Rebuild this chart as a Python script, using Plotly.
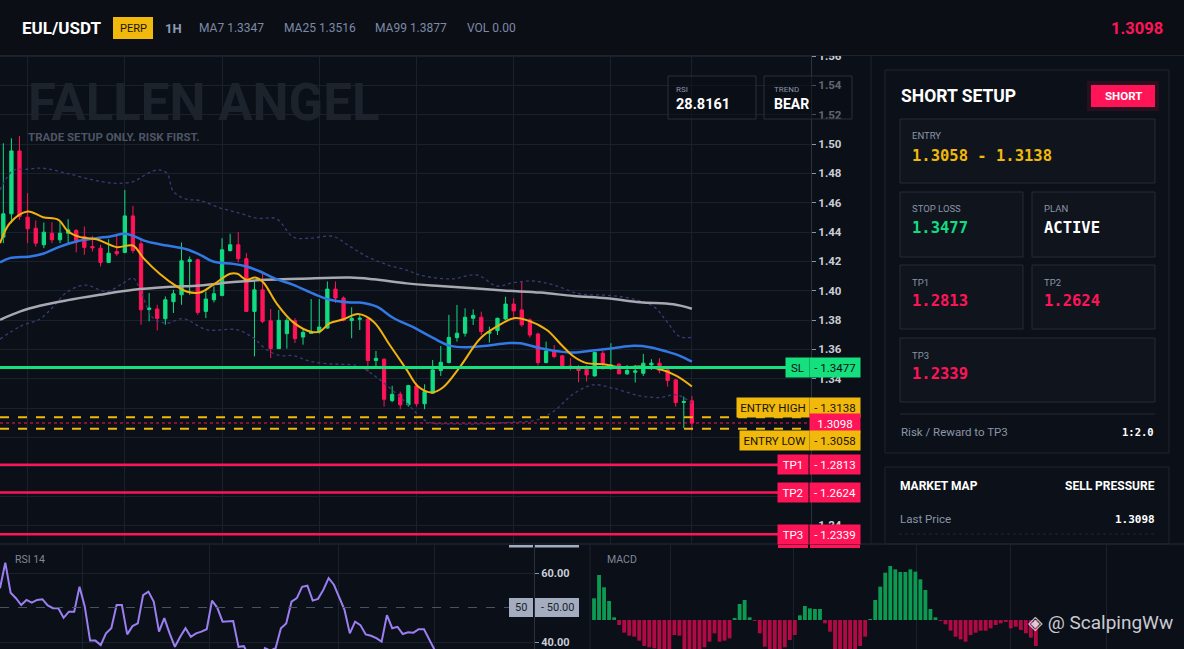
import plotly.graph_objects as go

# ---- data ----
opens = [1.4365, 1.4524, 1.4953, 1.4501, 1.4426, 1.4313, 1.4392, 1.4347, 1.4392, 1.4411,
         1.4370, 1.4301, 1.4290, 1.4193, 1.4267, 1.4261, 1.4510, 1.4320, 1.3872, 1.3875,
         1.3809, 1.3925, 1.3972, 1.4199, 1.4211, 1.3859, 1.3938, 1.3968, 1.4274, 1.4313,
         1.4218, 1.3859, 1.4006, 1.3795, 1.3605, 1.3707, 1.3795, 1.3684, 1.3709, 1.3718,
         1.3745, 1.4011, 1.3950, 1.3796, 1.3805, 1.3807, 1.3524, 1.3533, 1.3251, 1.3294,
         1.3222, 1.3351, 1.3229, 1.3301, 1.3456, 1.3510, 1.3680, 1.3710, 1.3812, 1.3819,
         1.3710, 1.3728, 1.3807, 1.3909, 1.3869, 1.3801, 1.3705, 1.3510, 1.3589, 1.3556,
         1.3487, 1.3478, 1.3465, 1.3419, 1.3574, 1.3483, 1.3499, 1.3433, 1.3444, 1.3437,
         1.3494, 1.3506, 1.3460, 1.3392, 1.3238, 1.3249]
highs = [1.5005, 1.5039, 1.5055, 1.4665, 1.4479, 1.4465, 1.4467, 1.4467, 1.4488, 1.4420,
         1.4438, 1.4374, 1.4313, 1.4351, 1.4388, 1.4687, 1.4578, 1.4347, 1.3984, 1.3904,
         1.3961, 1.4006, 1.4329, 1.4233, 1.4218, 1.3995, 1.4029, 1.4358, 1.4388, 1.4399,
         1.4256, 1.4063, 1.4131, 1.3875, 1.3870, 1.3813, 1.3813, 1.3739, 1.3943, 1.3943,
         1.4063, 1.4063, 1.3961, 1.3887, 1.3834, 1.3812, 1.3589, 1.3539, 1.3351, 1.3312,
         1.3358, 1.3369, 1.3362, 1.3528, 1.3623, 1.3835, 1.3903, 1.3880, 1.3873, 1.3857,
         1.3755, 1.3816, 1.3959, 1.3948, 1.4062, 1.3812, 1.3714, 1.3653, 1.3630, 1.3562,
         1.3540, 1.3494, 1.3494, 1.3585, 1.3589, 1.3642, 1.3506, 1.3494, 1.3494, 1.3569,
         1.3533, 1.3540, 1.3465, 1.3396, 1.3278, 1.3283]
lows = [1.4324, 1.4460, 1.4483, 1.4324, 1.4301, 1.4290, 1.4324, 1.4324, 1.4324, 1.4261,
        1.4245, 1.4267, 1.4165, 1.4190, 1.4238, 1.4256, 1.4256, 1.3768, 1.3791, 1.3729,
        1.3768, 1.3848, 1.3904, 1.3972, 1.3836, 1.3813, 1.3920, 1.3961, 1.4267, 1.4193,
        1.3859, 1.3552, 1.3779, 1.3541, 1.3605, 1.3605, 1.3643, 1.3632, 1.3707, 1.3707,
        1.3741, 1.3916, 1.3791, 1.3676, 1.3732, 1.3449, 1.3483, 1.3210, 1.3240, 1.3192,
        1.3210, 1.3210, 1.3192, 1.3297, 1.3419, 1.3505, 1.3653, 1.3687, 1.3766, 1.3698,
        1.3646, 1.3698, 1.3801, 1.3801, 1.3755, 1.3680, 1.3490, 1.3505, 1.3540, 1.3471,
        1.3456, 1.3376, 1.3381, 1.3415, 1.3460, 1.3460, 1.3433, 1.3426, 1.3374, 1.3419,
        1.3460, 1.3437, 1.3346, 1.3210, 1.3063, 1.3047]
closes = [1.4524, 1.4953, 1.4506, 1.4422, 1.4324, 1.4399, 1.4347, 1.4392, 1.4415, 1.4331,
          1.4295, 1.4292, 1.4193, 1.4256, 1.4252, 1.4510, 1.4274, 1.3870, 1.3882, 1.3811,
          1.3938, 1.3979, 1.4204, 1.4211, 1.3852, 1.3943, 1.3979, 1.4279, 1.4313, 1.4218,
          1.3859, 1.4006, 1.3791, 1.3605, 1.3798, 1.3798, 1.3673, 1.3716, 1.3720, 1.3752,
          1.4011, 1.3950, 1.3798, 1.3812, 1.3812, 1.3524, 1.3539, 1.3260, 1.3294, 1.3222,
          1.3353, 1.3229, 1.3312, 1.3460, 1.3512, 1.3682, 1.3710, 1.3819, 1.3832, 1.3721,
          1.3721, 1.3812, 1.3909, 1.3862, 1.3767, 1.3698, 1.3510, 1.3589, 1.3551, 1.3478,
          1.3476, 1.3456, 1.3426, 1.3578, 1.3506, 1.3494, 1.3433, 1.3456, 1.3453, 1.3506,
          1.3506, 1.3456, 1.3387, 1.3238, 1.3244, 1.3098]

ma7_x = [-0.4, 0.8, 3.0, 4.9, 6.8, 8.0, 9.5, 11.5, 14.0, 16.0, 17.3, 19.3, 21.4, 22.6, 24.3,
         25.9, 28.0, 28.9, 30.0, 31.1, 32.1, 33.7, 35.8, 38.1, 39.1, 40.3, 42.0, 43.8, 45.7,
         47.7, 49.8, 51.2, 52.9, 54.3, 56.4, 58.9, 60.9, 63.0, 64.8, 67.1, 68.9, 70.4, 72.0,
         74.1, 76.1, 78.6, 81.1, 83.1, 85.0]
ma7 = [1.4324, 1.4460, 1.4540, 1.4501, 1.4483, 1.4404, 1.4365, 1.4351, 1.4297, 1.4308,
       1.4222, 1.4115, 1.4029, 1.3995, 1.3988, 1.4040, 1.4115, 1.4115, 1.4074, 1.4090,
       1.4056, 1.3916, 1.3784, 1.3718, 1.3723, 1.3779, 1.3805, 1.3841, 1.3789, 1.3630,
       1.3460, 1.3347, 1.3306, 1.3342, 1.3483, 1.3676, 1.3755, 1.3812, 1.3796, 1.3732,
       1.3630, 1.3551, 1.3506, 1.3499, 1.3478, 1.3483, 1.3465, 1.3419, 1.3347]

ma25_x = [-0.4, 0.8, 3.3, 4.9, 7.0, 9.0, 11.5, 13.2, 15.0, 16.05, 17.7, 20.2, 22.6, 24.3,
          25.9, 28.4, 30.0, 31.7, 33.7, 35.8, 38.3, 40.3, 42.8, 44.0, 46.1, 48.2, 50.6,
          53.1, 55.2, 57.2, 59.7, 62.1, 63.8, 66.3, 68.7, 70.4, 72.8, 75.3, 77.8, 79.8,
          81.9, 83.5, 85.0]
ma25 = [1.4193, 1.4222, 1.4233, 1.4252, 1.4301, 1.4336, 1.4358, 1.4370, 1.4388, 1.4374,
        1.4336, 1.4308, 1.4283, 1.4245, 1.4199, 1.4183, 1.4165, 1.4131, 1.4079, 1.4040,
        1.3979, 1.3938, 1.3920, 1.3919, 1.3891, 1.3812, 1.3751, 1.3676, 1.3624, 1.3615,
        1.3624, 1.3642, 1.3642, 1.3608, 1.3585, 1.3578, 1.3592, 1.3608, 1.3624, 1.3615,
        1.3585, 1.3556, 1.3516]

ma99_x = [-0.4, 2.1, 4.5, 7.8, 11.9, 16.05, 20.2, 24.3, 28.4, 32.5, 36.6, 42.8, 45.7, 49.8,
          53.9, 58.0, 62.1, 66.3, 70.4, 74.5, 78.6, 82.7, 85.0]
ma99 = [1.3802, 1.3859, 1.3897, 1.3934, 1.3972, 1.4006, 1.4025, 1.4036, 1.4059, 1.4074,
        1.4081, 1.4090, 1.4078, 1.4050, 1.4032, 1.4016, 1.4000, 1.3987, 1.3964, 1.3948,
        1.3921, 1.3907, 1.3877]

bb_up_x = [-0.4, 1.2, 2.9, 4.9, 7.8, 11.1, 13.6, 16.05, 17.7, 19.1, 20.2, 21.0, 22.6, 24.3,
           26.8, 29.2, 31.3, 33.7, 35.8, 37.9, 40.7, 42.8, 45.0, 47.5, 49.8, 51.4, 55.2,
           58.5, 60.9, 63.0, 65.4, 67.9, 71.2, 74.5, 77.4, 80.3, 81.9, 83.5, 85.0]
bb_up = [1.4687, 1.4819, 1.4828, 1.4835, 1.4801, 1.4755, 1.4733, 1.4744, 1.4796, 1.4824,
         1.4801, 1.4676, 1.4624, 1.4615, 1.4563, 1.4529, 1.4494, 1.4490, 1.4365, 1.4358,
         1.4370, 1.4301, 1.4230, 1.4175, 1.4141, 1.4107, 1.4080, 1.4107, 1.4032, 1.4055,
         1.4066, 1.4039, 1.3978, 1.3969, 1.3948, 1.3891, 1.3789, 1.3687, 1.3683]

bb_lo_x = [-0.4, 2.1, 4.5, 6.2, 7.8, 10.1, 12.8, 14.8, 16.0, 16.9, 18.5, 20.2, 22.2, 25.1,
           28.8, 30.9, 32.5, 34.2, 35.8, 37.9, 40.7, 42.8, 44.0, 46.5, 49.8, 52.3, 55.6,
           58.9, 62.1, 65.9, 67.9, 70.4, 72.8, 75.3, 78.6, 81.1, 83.1, 85.0]
bb_lo = [1.3670, 1.3757, 1.3807, 1.3893, 1.3988, 1.4038, 1.3995, 1.4052, 1.4086, 1.4006,
         1.3813, 1.3779, 1.3809, 1.3734, 1.3734, 1.3677, 1.3598, 1.3557, 1.3557, 1.3518,
         1.3500, 1.3496, 1.3483, 1.3392, 1.3233, 1.3108, 1.3092, 1.3092, 1.3101, 1.3120,
         1.3176, 1.3297, 1.3358, 1.3335, 1.3283, 1.3272, 1.3290, 1.3233]

rsi = [55.6, 63.0, 54.3, 52.7, 50.7, 52.2, 51.4, 52.2, 52.4, 50.6, 49.8, 49.8, 47.0, 48.8,
       48.8, 56.0, 50.2, 40.4, 40.4, 39.1, 42.5, 44.0, 50.7, 50.7, 42.2, 44.6, 45.4, 53.6,
       54.6, 51.7, 43.0, 46.9, 42.5, 38.6, 41.5, 44.0, 41.5, 42.5, 43.0, 43.7, 52.0, 49.9,
       45.9, 46.1, 46.1, 38.6, 38.8, 36.0, 33.5, 34.5, 38.2, 37.5, 38.2, 44.0, 45.4, 51.7,
       52.7, 56.0, 56.3, 52.0, 52.5, 55.1, 58.5, 56.6, 53.1, 49.3, 42.5, 45.9, 44.9, 42.2,
       41.8, 41.1, 40.1, 47.8, 44.0, 44.4, 42.3, 42.8, 42.7, 43.7, 43.7, 40.6, 37.7, 33.0,
       28.8161]

macd_hist = [0.0013, 0.0027, 0.00196, 0.00114, 0.00016,
             -0.0003, -0.00076, -0.00094, -0.0010, -0.00124, -0.00156, -0.00164, -0.0017,
             -0.0019, -0.0021, -0.0020, -0.0009, -0.00094, -0.0019, -0.0021, -0.0022, -0.0020,
             -0.00164, -0.0013, -0.0008, -0.0013, -0.00124, -0.0011,
             0.00012, 0.00096, 0.0012, 0.00016,
             -0.00004, -0.0008, -0.0016, -0.0019, -0.0021, -0.0019, -0.00164, -0.0012, -0.0009,
             0.00028, 0.00084, 0.0007, 0.00066, 0.00066,
             -0.0002, -0.0007, -0.0019, -0.0022, -0.0023, -0.0021, -0.0019, -0.00156, -0.001,
             0.00004, 0.0012, 0.002, 0.00284, 0.00324, 0.00304, 0.00288, 0.00288, 0.00304,
             0.0029, 0.00244, 0.0018, 0.00066, 0.00016,
             -0.00004, -0.00026, -0.00064, -0.001, -0.00116, -0.0013, -0.0009, -0.00076,
             -0.00064, -0.00064, -0.0005, -0.0003, -0.0002, -0.0001, -0.0005, -0.0004,
             -0.0006, -0.0008, -0.00106, -0.00156]

entry_low, entry_high = 1.3058, 1.3138
stop_loss = 1.3477
tp1, tp2, tp3 = 1.2813, 1.2624, 1.2339
last_price = closes[-1]
risk_reward = "1:2.0"

# ---- colours ----
BG = "#0b0f17"
GRID = "#1b212c"
GREEN = "#10dc82"
RED = "#ff1458"
YELLOW = "#f0b90b"
MUTED = "#8b95a7"
BOXFILL = "#0f141d"
BOXLINE = "#242c3a"

W, H = 1184, 649


def px(x):
    return x / W


def py(y):
    return 1 - y / H


fig = go.Figure()

# main price panel
fig.add_trace(go.Candlestick(
    x=list(range(len(closes))), open=opens, high=highs, low=lows, close=closes,
    increasing=dict(line=dict(color=GREEN, width=1), fillcolor=GREEN),
    decreasing=dict(line=dict(color=RED, width=1), fillcolor=RED),
    whiskerwidth=0, showlegend=False, hoverinfo="skip"))

fig.add_trace(go.Scatter(x=bb_up_x, y=bb_up, mode="lines", line=dict(color="#3b3a78", width=1.3, dash="dot", shape="spline")))
fig.add_trace(go.Scatter(x=bb_lo_x, y=bb_lo, mode="lines", line=dict(color="#3b3a78", width=1.3, dash="dot", shape="spline")))
fig.add_trace(go.Scatter(x=ma99_x, y=ma99, mode="lines", line=dict(color="#a7a8b2", width=2.5, shape="spline")))
fig.add_trace(go.Scatter(x=ma25_x, y=ma25, mode="lines", line=dict(color="#3279e6", width=2.5, shape="spline")))
fig.add_trace(go.Scatter(x=ma7_x, y=ma7, mode="lines", line=dict(color="#f2b10c", width=2, shape="spline")))

# RSI panel
fig.add_trace(go.Scatter(x=list(range(len(rsi))), y=rsi, mode="lines",
                         line=dict(color="#9b7ff2", width=2), xaxis="x2", yaxis="y2"))

# MACD histogram
fig.add_trace(go.Bar(x=list(range(len(macd_hist))), y=macd_hist,
                     marker=dict(color=["#0c9a52" if v >= 0 else "#b00a45" for v in macd_hist], line=dict(width=0)),
                     xaxis="x3", yaxis="y3"))

ax_common = dict(zeroline=False, gridcolor=GRID, gridwidth=1, fixedrange=True, automargin=False)

fig.update_layout(
    width=W, height=H, margin=dict(l=0, r=0, t=0, b=0, autoexpand=False),
    paper_bgcolor=BG, plot_bgcolor=BG, showlegend=False,
    boxgap=0.42, bargap=0.24,
    font=dict(family="Roboto", color="#c9ced6"),
    xaxis=dict(domain=[0, px(811)], range=[-0.41, 99.7], tickvals=[3, 15, 27, 39, 51, 63, 75, 85],
               showticklabels=False, showline=False, rangeslider=dict(visible=False), **ax_common),
    yaxis=dict(domain=[py(544), py(55)], range=[1.2273, 1.5607], side="right", tick0=1.24, dtick=0.02,
               tickformat=".2f", ticks="outside", ticklen=4, tickcolor="#8d96a6",
               tickfont=dict(size=11.5, color="#c9ced6", weight="bold"),
               showline=True, linecolor="#2a3140", **ax_common),
    xaxis2=dict(domain=[0, px(534)], range=[0, 100.75], tickvals=[15.5, 39.6, 63.8, 81.9],
                showticklabels=False, showline=False, **ax_common),
    yaxis2=dict(domain=[0, py(545)], range=[37.97, 68.12], side="right", anchor="x2",
                tickvals=[40, 60], ticktext=["40.00", "60.00"], ticks="outside", ticklen=4,
                tickcolor="#8d96a6", tickfont=dict(size=11, color="#c9ced6", weight="bold"),
                showline=True, linecolor="#2a3140", **ax_common),
    xaxis3=dict(domain=[px(590), 1], range=[-0.8, 117.5], tickvals=[15.3, 39.8, 64.3, 82.9, 102],
                showticklabels=False, showline=False, anchor="y3", **ax_common),
    yaxis3=dict(domain=[0, py(545)], range=[-0.00174, 0.0045], showticklabels=False,
                showgrid=False, anchor="x3", zeroline=False, fixedrange=True, automargin=False),
)

shapes = []
ann = []


def rect(x0, y0, x1, y1, fill, line=None, lw=1, layer="above"):
    shapes.append(dict(type="rect", xref="paper", yref="paper", x0=px(x0), x1=px(x1), y0=py(y1), y1=py(y0),
                       fillcolor=fill, line=dict(color=line or fill, width=lw if line else 0), layer=layer))


def hline(x0, x1, y, color, width=1, dash="solid"):
    shapes.append(dict(type="line", xref="paper", yref="paper", x0=px(x0), x1=px(x1), y0=py(y), y1=py(y),
                       line=dict(color=color, width=width, dash=dash)))


def text(x, y, s, size, color, anchor="left", family="Roboto", weight="normal"):
    ann.append(dict(xref="paper", yref="paper", x=px(x), y=py(y), text=s, showarrow=False,
                    xanchor=anchor, yanchor="middle", borderpad=0,
                    font=dict(family=family, size=size, color=color, weight=weight)))


def tag(x0, x1, yv, s, bg, fg, yshift=0):
    ann.append(dict(xref="paper", yref="y", x=px((x0 + x1) / 2), y=yv, yshift=yshift, text=s,
                    showarrow=False, bgcolor=bg, width=x1 - x0, height=19, borderpad=0,
                    xanchor="center", yanchor="middle",
                    font=dict(family="Roboto", size=11.5, color=fg)))


# price levels on the main panel
for lvl, color, width, dash, x_end in [
        (stop_loss, "#14e07e", 3, "solid", 786),
        (entry_high, YELLOW, 2, "dash", 811),
        (entry_low, YELLOW, 2, "dash", 811),
        (last_price, RED, 1, "dot", 811),
        (tp1, RED, 2.5, "solid", 778),
        (tp2, RED, 2.5, "solid", 778),
        (tp3, RED, 2.5, "solid", 778)]:
    shapes.append(dict(type="line", xref="paper", yref="y", x0=0, x1=px(x_end), y0=lvl, y1=lvl,
                       line=dict(color=color, width=width, dash=dash)))

tag(786, 809, stop_loss, "SL", "#14e07e", "#0b0f17")
tag(810, 860, stop_loss, f"- {stop_loss:.4f}", "#14e07e", "#0b0f17")
tag(737, 809, entry_high, "ENTRY HIGH", YELLOW, "#1a1406", yshift=10)
tag(810, 860, entry_high, f"- {entry_high:.4f}", YELLOW, "#1a1406", yshift=10)
tag(810, 860, last_price, f"{last_price:.4f}", RED, "white")
tag(740, 809, entry_low, "ENTRY LOW", YELLOW, "#1a1406", yshift=-12)
tag(810, 860, entry_low, f"- {entry_low:.4f}", YELLOW, "#1a1406", yshift=-12)
for name, lvl in [("TP1", tp1), ("TP2", tp2), ("TP3", tp3)]:
    tag(778, 808, lvl, name, RED, "white")
    tag(810, 860, lvl, f"- {lvl:.4f}", RED, "white")
rect(778, 545, 808, 548, RED)
rect(810, 545, 860, 548, RED)

# header
rect(0, 0, W, 55, "#0b0e15")
hline(0, W, 55.5, "#1d2430", 1)
text(21, 28, "EUL/USDT", 17, "white", weight="bold")
rect(113, 17, 153, 39, YELLOW)
text(133, 28, "PERP", 11, "#1a1406", anchor="center")
text(164, 28, "1H", 13, "#8d9bb5", weight="bold")
text(198, 28, f"MA7 {ma7[-1]:.4f}", 12, "#7d8aa5")
text(283, 28, f"MA25 {ma25[-1]:.4f}", 12, "#7d8aa5")
text(374, 28, f"MA99 {ma99[-1]:.4f}", 12, "#7d8aa5")
text(466, 28, "VOL 0.00", 12, "#7d8aa5")
text(1164, 28, f"{last_price:.4f}", 16.5, RED, anchor="right", weight="bold")

# watermark and overlay boxes on the chart
text(27, 103, "FALLEN ANGEL", 51, "#1d232d", weight="bold")
text(27, 137, "TRADE SETUP ONLY. RISK FIRST.", 11.5, "#4d5565", weight="bold")
rect(668, 76, 756, 119, "rgba(11,15,23,0.55)", "#29313f")
rect(764, 76, 852, 119, "rgba(11,15,23,0.55)", "#29313f")
text(675, 89, "RSI", 8, MUTED)
text(675, 104, f"{rsi[-1]:.4f}", 14.5, "white", weight="bold")
text(773, 89, "TREND", 8, MUTED)
text(773, 104, "BEAR", 14, "white", weight="bold")

shapes.append(dict(type="line", xref="paper", yref="paper", x0=px(871), x1=px(871), y0=py(544), y1=py(56),
                   line=dict(color="#1d2430", width=1)))

# right-hand setup panel
rect(885, 70, 1169, 453, "#0c1119", "#1f2735")
text(900, 96, "SHORT SETUP", 17.5, "white", weight="bold")
rect(1087, 81, 1159, 111, "rgba(255,20,88,0.12)")
rect(1091, 85, 1155, 107, RED)
text(1123, 96, "SHORT", 11.5, "white", anchor="center", weight="bold")

rect(900, 119, 1155, 183, BOXFILL, BOXLINE)
text(911, 135, "ENTRY", 9.5, MUTED)
text(911, 156, f"{entry_low:.4f} - {entry_high:.4f}", 15.5, YELLOW, family="DejaVu Sans Mono", weight="bold")

rect(900, 192, 1023, 257, BOXFILL, BOXLINE)
text(911, 208, "STOP LOSS", 9.5, MUTED)
text(911, 228, f"{stop_loss:.4f}", 15.5, GREEN, family="DejaVu Sans Mono", weight="bold")
rect(1032, 192, 1155, 257, BOXFILL, BOXLINE)
text(1043, 208, "PLAN", 9.5, MUTED)
text(1043, 228, "ACTIVE", 15.5, "white", family="DejaVu Sans Mono", weight="bold")

rect(900, 265, 1023, 329, BOXFILL, BOXLINE)
text(911, 282, "TP1", 9.5, MUTED)
text(911, 301, f"{tp1:.4f}", 15.5, RED, family="DejaVu Sans Mono", weight="bold")
rect(1032, 265, 1155, 329, BOXFILL, BOXLINE)
text(1043, 282, "TP2", 9.5, MUTED)
text(1043, 301, f"{tp2:.4f}", 15.5, RED, family="DejaVu Sans Mono", weight="bold")

rect(900, 338, 1155, 402, BOXFILL, BOXLINE)
text(911, 355, "TP3", 9.5, MUTED)
text(911, 374, f"{tp3:.4f}", 15.5, RED, family="DejaVu Sans Mono", weight="bold")

hline(900, 1155, 414, "#232b39", 1)
text(900, 432, "Risk / Reward to TP3", 11.5, MUTED)
text(1155, 432, risk_reward, 10.5, "white", anchor="right", family="DejaVu Sans Mono", weight="bold")

rect(885, 467, 1169, 544, "#0c1119", "#1f2735")
text(899, 486, "MARKET MAP", 12, "white", weight="bold")
text(1156, 486, "SELL PRESSURE", 12, "white", anchor="right", weight="bold")
text(899, 519, "Last Price", 11.5, MUTED)
text(1156, 519, f"{last_price:.4f}", 11, "white", anchor="right", family="DejaVu Sans Mono", weight="bold")
hline(899, 1156, 534, "#1f2735", 1, "dot")

# bottom panels
hline(0, W, 544, "#1d2430", 1.5)
shapes.append(dict(type="line", xref="paper", yref="paper", x0=px(590), x1=px(590), y0=0, y1=py(545),
                   line=dict(color="#1d2430", width=1)))
shapes.append(dict(type="line", xref="x2", yref="y2", x0=0, x1=100.75, y0=50, y1=50,
                   line=dict(color="#4a5160", width=1, dash="dash")))
text(14, 559, "RSI 14", 10.5, "#7f8898")
rect(509, 598, 533, 617, "#a3adbf")
text(521, 607.5, "50", 11, "#1a1f29", anchor="center")
rect(535, 598, 579, 617, "#a3adbf")
text(557, 607.5, "- 50.00", 11, "#1a1f29", anchor="center")
rect(509, 545, 533, 547.5, "#a3adbf")
rect(535, 545, 579, 547.5, "#a3adbf")

text(606, 559, "MACD", 10.5, "#7f8898")
text(1174, 622, "◈ @ ScalpingWw", 19, "rgba(235,238,245,0.85)", anchor="right")

fig.update_layout(shapes=shapes, annotations=ann)

fig.write_html("out.html", config={"displayModeBar": False},
               post_script="document.body.style.margin='0';document.body.style.background='#0b0f17';")
